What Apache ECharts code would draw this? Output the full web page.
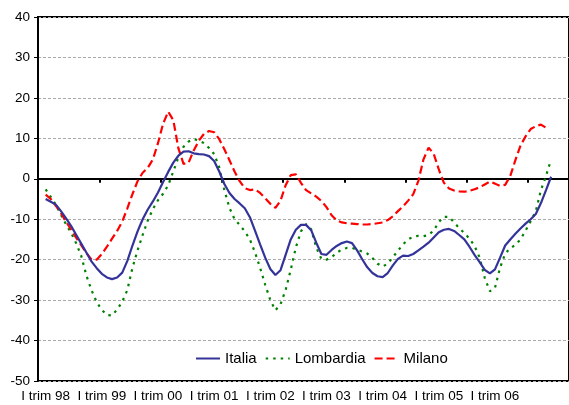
<!DOCTYPE html>
<html>
<head>
<meta charset="utf-8">
<script src="https://cdn.jsdelivr.net/npm/echarts@6/dist/echarts.min.js"></script>
<style>
  html, body { margin: 0; padding: 0; background: #fff; }
  #chart { width: 569px; height: 405px; }
</style>
</head>
<body>
<div id="chart"></div>
<script>
// etichette dell'asse x (una ogni 11 periodi, a partire dal primo dato)
const tickLabels = ['I trim 98', 'I trim 99', 'I trim 00', 'I trim 01', 'I trim 02',
  'I trim 03', 'I trim 04', 'I trim 05', 'I trim 06']

// periodi sull'asse: 104 posizioni, i dati partono dalla posizione 1
const periods = []
for (let i = 0; i < 104; i++) periods.push('p' + i)

const italia = [
  -5.0, -5.7, -6.4, -8.0, -9.8, -11.7, -13.9, -16.1, -18.3, -20.5,
  -22.1, -23.5, -24.4, -24.8, -24.4, -23.2, -20.3, -16.5, -13.0, -10.0,
  -7.6, -5.6, -3.4, -0.8, 1.7, 4.0, 5.7, 6.7, 6.8, 6.3,
  6.1, 6.0, 5.6, 4.4, 1.8, -1.3, -3.5, -5.0, -6.1, -7.3,
  -9.5, -12.8, -16.2, -19.5, -22.3, -23.8, -22.6, -18.8, -15.0, -12.6,
  -11.4, -11.4, -12.7, -15.8, -18.6, -18.8, -17.6, -16.6, -15.9, -15.5,
  -15.9, -17.7, -19.9, -21.9, -23.3, -24.1, -24.3, -23.3, -21.4, -19.8,
  -19.0, -19.1, -18.6, -17.7, -16.8, -15.8, -14.5, -13.2, -12.6, -12.4,
  -12.9, -13.9, -15.0, -16.8, -18.8, -20.6, -22.5, -23.4, -22.4, -19.5,
  -16.5, -15.0, -13.6, -12.3, -11.1, -10.0, -8.7, -6.0, -2.8, 0.5
]

const lombardia = [
  -2.6, -4.5, -6.4, -8.9, -11.3, -13.4, -16.0, -19.2, -24.0, -27.6,
  -30.5, -32.4, -33.7, -33.8, -32.3, -30.4, -27.5, -22.0, -17.7, -13.9,
  -10.3, -7.5, -5.3, -3.7, -1.6, 1.8, 5.3, 7.9, 9.2, 9.8,
  9.5, 8.8, 7.6, 6.1, 2.8, -2.8, -7.2, -10.0, -11.4, -13.0,
  -15.0, -18.2, -22.0, -26.2, -30.0, -32.5, -31.0, -27.5, -22.5, -17.0,
  -13.0, -11.2, -12.5, -17.0, -19.8, -20.0, -19.4, -18.3, -17.5, -17.1,
  -17.1, -17.5, -18.0, -18.5, -19.6, -21.0, -21.7, -21.0, -19.4, -17.8,
  -16.2, -15.0, -14.3, -14.1, -14.2, -13.9, -12.8, -10.7, -9.4, -9.4,
  -10.8, -12.2, -13.4, -14.8, -16.6, -19.5, -24.5, -27.8, -27.0, -22.0,
  -18.5, -17.2, -16.3, -15.0, -12.8, -10.5, -8.0, -2.8, 0.7, 4.8
]

const milano = [
  -3.9, -5.0, -6.7, -8.5, -10.6, -12.6, -14.6, -16.5, -18.4, -20.0,
  -20.0, -18.6, -16.8, -14.8, -12.9, -10.6, -7.3, -3.8, -0.6, 1.5,
  2.7, 4.8, 8.8, 13.6, 16.6, 14.5, 7.5, 3.7, 4.0, 7.0,
  9.4, 11.1, 11.8, 11.5, 9.8, 7.3, 4.6, 1.8, -0.6, -2.3,
  -2.8, -2.6, -3.5, -4.8, -6.2, -7.2, -5.4, -1.6, 0.9, 1.1,
  -1.0, -2.8, -3.6, -4.4, -5.5, -7.0, -9.0, -10.3, -10.8, -11.0,
  -11.1, -11.2, -11.3, -11.3, -11.2, -11.0, -10.8, -10.2, -9.3, -8.0,
  -6.8, -5.4, -3.8, -0.5, 4.8, 7.7, 6.2, 2.3, -1.0, -2.4,
  -2.9, -3.1, -3.2, -3.0, -2.6, -2.1, -1.4, -0.7, -1.2, -1.8,
  -1.5, 0.7, 4.6, 8.2, 10.5, 12.3, 13.0, 13.4, 12.6
]

const font = 'Liberation Sans, Arial, sans-serif'
const chart = echarts.init(document.getElementById('chart'))

function pad(arr) {
  return [null].concat(arr)
}

chart.setOption({
  animation: false,
  backgroundColor: '#fff',
  grid: {
    left: 38,
    right: -1,
    top: 17,
    bottom: 24,
    show: true,
    borderColor: '#000',
    borderWidth: 2
  },
  legend: {
    left: 190,
    top: 346,
    itemWidth: 24,
    itemHeight: 12,
    itemGap: 8,
    itemStyle: { opacity: 0 }, // nasconde il pallino, resta solo il tratto della linea
    textStyle: { fontFamily: font, fontSize: 15, color: '#000' },
    data: ['Italia', 'Lombardia', 'Milano']
  },
  xAxis: [
    {
      type: 'category',
      data: periods,
      boundaryGap: true,
      position: 'bottom',
      axisLine: { onZero: true, lineStyle: { color: '#000', width: 2 } },
      axisTick: {
        show: true,
        interval: (i) => i > 0 && i % 12 === 0,
        length: 4,
        lineStyle: { color: '#000', width: 2 }
      },
      axisLabel: { show: false },
      splitLine: { show: false }
    },
    {
      type: 'category',
      data: periods,
      boundaryGap: true,
      position: 'bottom',
      axisLine: { show: false, onZero: false },
      axisTick: { show: false },
      axisLabel: {
        interval: (i) => i >= 1 && (i - 1) % 11 === 0 && (i - 1) / 11 < tickLabels.length,
        formatter: (v, i) => tickLabels[(i - 1) / 11],
        fontFamily: font,
        fontSize: 13.5,
        color: '#000',
        margin: 8
      },
      splitLine: { show: false }
    }
  ],
  yAxis: {
    type: 'value',
    min: -50,
    max: 40,
    interval: 10,
    axisLine: { show: true, lineStyle: { color: '#000', width: 2 } },
    axisTick: { show: true, length: 4, lineStyle: { color: '#000', width: 1 } },
    axisLabel: { fontFamily: font, fontSize: 13.5, color: '#000', margin: 8 },
    splitLine: { lineStyle: { color: '#aaa', type: [3, 2], width: 1 } }
  },
  series: [
    {
      name: 'Italia',
      type: 'line',
      data: pad(italia),
      symbol: 'none',
      lineStyle: { color: '#333399', width: 2.2 },
      itemStyle: { color: '#333399' },
      z: 4
    },
    {
      name: 'Lombardia',
      type: 'line',
      data: pad(lombardia),
      symbol: 'none',
      lineStyle: { color: '#008000', width: 2.2, type: [2.5, 5] },
      itemStyle: { color: '#008000' },
      z: 3
    },
    {
      name: 'Milano',
      type: 'line',
      data: pad(milano),
      symbol: 'none',
      lineStyle: { color: '#ff0000', width: 2.2, type: [8, 4] },
      itemStyle: { color: '#ff0000' },
      z: 3
    }
  ]
})
</script>
</body>
</html>
